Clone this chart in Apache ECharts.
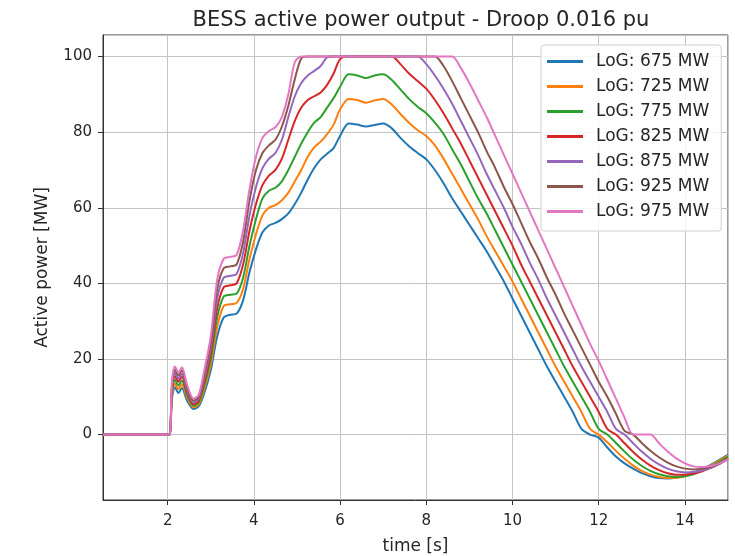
<!DOCTYPE html>
<html>
<head>
<meta charset="utf-8">
<script src="https://cdn.jsdelivr.net/npm/echarts@6/dist/echarts.min.js"></script>
<style>
  html, body { margin: 0; padding: 0; background: #fff; }
  #chart { width: 735px; height: 556px; }
</style>
</head>
<body>
<div id="chart"></div>
<script>
// time axis [s]
var times = [0.5, 2.0, 2.05, 2.1, 2.17, 2.25, 2.33, 2.45, 2.6, 2.72, 2.85,
    3.0, 3.15, 3.3, 3.45, 3.6, 3.75, 3.9, 4.05, 4.2, 4.35, 4.5, 4.65, 4.8, 4.95, 5.1, 5.25, 5.4, 5.55, 5.7, 5.85,
    6.0, 6.2, 6.4, 6.6, 6.8, 7.0, 7.2, 7.4, 7.6, 7.8,
    8.0, 8.2, 8.4, 8.6, 8.8, 9.0, 9.2, 9.4, 9.6, 9.8,
    10.0, 10.2, 10.4, 10.6, 10.8, 11.0, 11.2, 11.4, 11.6, 11.8,
    12.0, 12.2, 12.4, 12.6, 12.8, 13.0, 13.2, 13.4, 13.6, 13.8,
    14.0, 14.2, 14.4, 14.6, 14.8, 15.0];

// active power [MW] per LoG case
var p675 = [0, 0, 0, 9.5, 12.5, 11, 12.3, 9, 6.8, 7.5, 11,
    17, 26, 31, 31.7, 32, 35.5, 43, 49, 53.5, 55.3, 56, 57, 58.5, 61, 64, 67.5, 70.5, 72.8, 74.3, 75.8,
    79, 82.3, 82, 81.5, 81.9, 82.3, 81, 78.5, 76.3, 74.5,
    72.8, 70, 66.5, 62.5, 59, 55.5, 52, 48.5, 44.5, 40.5,
    36, 31.5, 27, 22.5, 18, 14, 10, 6, 1.5, 0,
    -0.8, -3.4, -5.8, -7.6, -9.0, -10.2, -11.0, -11.5, -11.6, -11.4,
    -10.9, -10.1, -9.1, -8.0, -6.7, -5.3];
var p725 = [0, 0, 0, 10.2, 13.5, 12, 13.3, 9.8, 7.2, 8, 12,
    18.5, 28.5, 34, 34.5, 34.8, 38.5, 46.5, 53, 58, 60, 60.7, 62, 64, 67, 70, 73.5, 76, 77.5, 79.5, 82,
    86, 88.8, 88.5, 87.8, 88.4, 88.8, 87.3, 84.8, 82.5, 80.5,
    79, 76.5, 73, 69, 65, 61, 57, 52.5, 48.5, 44.5,
    40.5, 36, 31.5, 27, 22.5, 18, 14, 10, 6, 1.5,
    0, -2.0, -4.3, -6.4, -8.2, -9.6, -10.6, -11.2, -11.5, -11.4,
    -11.0, -10.3, -9.3, -8.2, -6.9, -5.5];
var p775 = [0, 0, 0, 11, 14.5, 13, 14.3, 10.5, 7.6, 8.5, 13,
    20, 31, 36.5, 37, 37.3, 41.5, 50, 57, 62.5, 64.5, 65.3, 67, 70, 73.5, 77, 80, 82.5, 84, 86.5, 89,
    92, 95.3, 95, 94.3, 95, 95.3, 93.8, 91.3, 88.8, 86.7,
    85, 82.5, 79.5, 75.5, 71.5, 67, 62.5, 58.5, 54, 49.5,
    45, 40.5, 36, 31.5, 27, 22.5, 18, 14, 10, 6,
    1.5, 0, -2.2, -4.5, -6.6, -8.3, -9.6, -10.5, -11.0, -11.2,
    -11.0, -10.5, -9.6, -8.5, -7.2, -5.8];
var p825 = [0, 0, 0, 11.8, 15.5, 14, 15.3, 11.2, 8, 9, 14,
    21.5, 33.5, 39, 39.5, 40, 45, 54, 61, 66, 68.5, 70, 73, 78, 83, 86.5, 88.5, 89.5, 90.5, 92.5, 95.5,
    99.3, 100, 100, 100, 100, 100, 100, 98, 95.5, 93.5,
    91.5, 88.5, 85, 81, 77, 72.5, 68, 63.5, 59, 54.5,
    50, 45, 40.5, 36, 31.5, 27, 22.5, 18, 14, 10,
    6, 1.5, 0, -2.3, -4.6, -6.6, -8.2, -9.4, -10.2, -10.6,
    -10.6, -10.3, -9.7, -8.8, -7.6, -6.2];
var p875 = [0, 0, 0, 12.5, 16.3, 14.8, 16.1, 11.8, 8.5, 9.5, 15,
    23, 36, 41.5, 42, 42.5, 48, 58, 65.5, 70.5, 73, 74.5, 78, 84, 89.5, 93, 95, 96.2, 97.5, 99.8, 100,
    100, 100, 100, 100, 100, 100, 100, 100, 100, 100,
    98, 95, 91.5, 87.5, 83, 78.5, 74, 69, 64.5, 60,
    55, 50.5, 45.5, 41, 36, 31.5, 27, 22.5, 18, 14,
    10, 6, 1.5, 0, -2.3, -4.5, -6.4, -7.9, -9.0, -9.7,
    -10.0, -9.9, -9.5, -8.8, -7.8, -6.5];
var p925 = [0, 0, 0, 13.2, 17.2, 15.6, 17, 12.5, 9, 10, 16,
    24.5, 38.5, 44, 44.5, 45, 51, 62, 70, 74.5, 76.5, 78, 81.5, 87, 94, 99.5, 100, 100, 100, 100, 100,
    100, 100, 100, 100, 100, 100, 100, 100, 100, 100,
    100, 100, 97.5, 93.5, 89, 84.5, 80, 75, 70.5, 65.5,
    61, 56, 51, 46.5, 41.5, 37, 32, 27.5, 23, 18.5,
    14, 10, 5.5, 1, 0, -2.2, -4.3, -6.0, -7.4, -8.4,
    -9.0, -9.2, -9.0, -8.5, -7.6, -6.4];
var p975 = [0, 0, 0, 14, 18, 16.4, 17.8, 13.2, 9.5, 10.5, 17,
    26, 41, 46.5, 47, 47.5, 54, 65, 73.5, 78.5, 80.3, 81.3, 84, 90, 98.5, 100, 100, 100, 100, 100, 100,
    100, 100, 100, 100, 100, 100, 100, 100, 100, 100,
    100, 100, 100, 100, 97, 93, 88.5, 84, 79, 74,
    69, 64, 59, 54, 49, 44, 39, 34, 29, 24,
    19.5, 14.5, 9.5, 4.5, 0, 0, 0, -2.3, -4.5, -6.3,
    -7.6, -8.4, -8.6, -8.3, -7.6, -6.5];

var names = ['LoG: 675 MW', 'LoG: 725 MW', 'LoG: 775 MW', 'LoG: 825 MW',
             'LoG: 875 MW', 'LoG: 925 MW', 'LoG: 975 MW'];
var values = [p675, p725, p775, p825, p875, p925, p975];
var colors = ['#1f77b4', '#ff7f0e', '#2ca02c', '#d62728', '#9467bd', '#8c564b', '#e377c2'];

var series = names.map(function (name, i) {
    return {
        name: name,
        type: 'line',
        showSymbol: false,
        symbol: 'none',
        smooth: 0.3,
        lineStyle: { width: 2, color: colors[i] },
        itemStyle: { color: colors[i] },
        data: times.map(function (t, j) { return [t, values[i][j]]; })
    };
});

var txt = '#262626';
var chart = echarts.init(document.getElementById('chart'));
chart.setOption({
    animation: false,
    backgroundColor: '#fff',
    textStyle: { fontFamily: 'DejaVu Sans' },
    title: {
        text: 'BESS active power output - Droop 0.016 pu',
        left: 416,
        top: 5,
        textAlign: 'center',
        textStyle: { fontSize: 21, fontWeight: 'normal', color: txt, fontFamily: 'DejaVu Sans' }
    },
    legend: {
        orient: 'vertical',
        left: 541,
        top: 45,
        padding: [8, 12, 11, 6],
        itemGap: 8,
        itemWidth: 36,
        itemHeight: 3,
        icon: 'rect',
        borderColor: '#d0d0d0',
        borderWidth: 1,
        borderRadius: 3,
        backgroundColor: 'rgba(255,255,255,0.85)',
        textStyle: { fontSize: 17, color: txt, padding: [0, 0, 0, 8] },
        data: names
    },
    grid: {
        left: 103, right: 7, top: 35, bottom: 56,
        outerBoundsMode: 'none',
        containLabel: false,
        show: true, borderColor: '#333', borderWidth: 1
    },
    xAxis: {
        type: 'value',
        min: 0.5,
        max: 15,
        splitNumber: 7,
        name: 'time [s]',
        nameLocation: 'middle',
        nameGap: 38,
        nameTextStyle: { fontSize: 17, color: txt },
        axisLine: { show: true, onZero: false, lineStyle: { color: '#333' } },
        axisTick: { show: true, length: 5, lineStyle: { color: '#333' } },
        axisLabel: { fontSize: 15, color: txt, margin: 14, showMinLabel: false, showMaxLabel: false },
        splitLine: { show: true, lineStyle: { color: '#c4c4c4', width: 1 } }
    },
    yAxis: {
        type: 'value',
        min: -17.3,
        max: 105.7,
        splitNumber: 6,
        name: 'Active power [MW]',
        nameLocation: 'middle',
        nameGap: 52,
        nameTextStyle: { fontSize: 17, color: txt },
        axisLine: { show: true, onZero: false, lineStyle: { color: '#333' } },
        axisTick: { show: true, length: 5, lineStyle: { color: '#333' } },
        axisLabel: { fontSize: 15, color: txt, margin: 11, showMinLabel: false, showMaxLabel: false },
        splitLine: { show: true, lineStyle: { color: '#c4c4c4', width: 1 } }
    },
    series: series
});
</script>
</body>
</html>
